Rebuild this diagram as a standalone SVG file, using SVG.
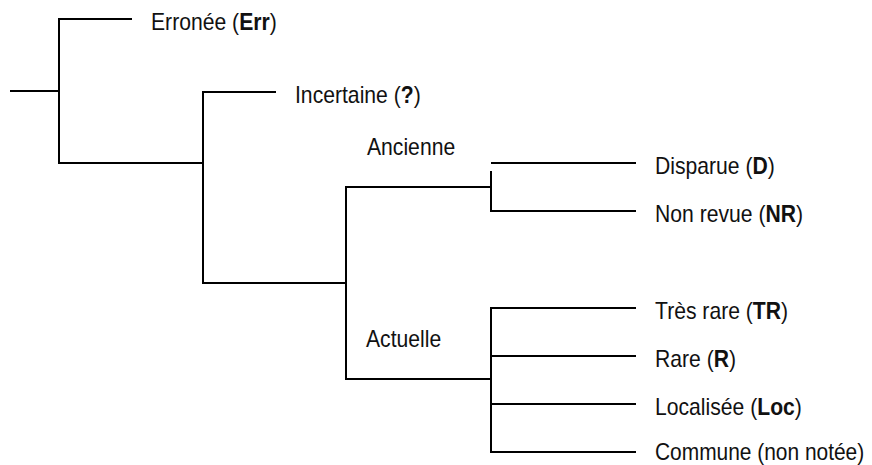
<svg xmlns="http://www.w3.org/2000/svg" width="872" height="465" viewBox="0 0 872 465">
<style>
.c{fill:none;stroke:#000;stroke-width:2;stroke-linecap:square}
text{font-family:"Liberation Sans",Arial,sans-serif;font-size:23px;fill:#111}
.b{font-weight:bold}
</style>
<rect width="872" height="465" fill="#fff"/>
<g id="connectors">
<path class="c" d="M11 91H59M59 19V163M59 19H131M59 163H203M203 92V283M203 92H275M203 283H346M346 187V379M346 187H491M491 172V211M491 211H635M492 163H635M346 379H491M491 308V452M491 308H635M491 356H635M491 404H635M491 452H635"/>
</g>
<g id="n-err"><text transform="translate(151 29.5) scale(0.92 1)">Erronée (<tspan class="b">Err</tspan>)</text></g>
<g id="n-inc"><text transform="translate(295 102.5) scale(0.92 1)">Incertaine (<tspan class="b">?</tspan>)</text></g>
<g id="n-anc"><text transform="translate(367 155) scale(0.92 1)">Ancienne</text></g>
<g id="n-act"><text transform="translate(366 347) scale(0.92 1)">Actuelle</text></g>
<g id="n-d"><text transform="translate(655 173.5) scale(0.92 1)">Disparue (<tspan class="b">D</tspan>)</text></g>
<g id="n-nr"><text transform="translate(655 221.5) scale(0.92 1)">Non revue (<tspan class="b">NR</tspan>)</text></g>
<g id="n-tr"><text transform="translate(655 319) scale(0.92 1)">Très rare (<tspan class="b">TR</tspan>)</text></g>
<g id="n-r"><text transform="translate(655 367) scale(0.92 1)">Rare (<tspan class="b">R</tspan>)</text></g>
<g id="n-loc"><text transform="translate(655 415) scale(0.92 1)">Localisée (<tspan class="b">Loc</tspan>)</text></g>
<g id="n-com"><text transform="translate(655 459.5) scale(0.91 1)">Commune (non notée)</text></g>
</svg>
